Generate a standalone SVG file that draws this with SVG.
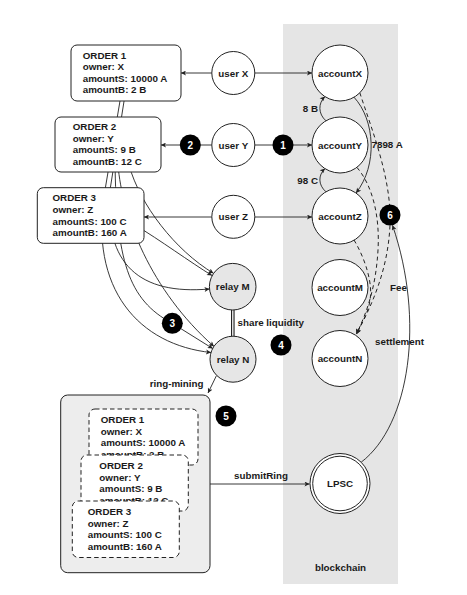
<svg xmlns="http://www.w3.org/2000/svg" width="467" height="595" viewBox="0 0 467 595">
<style>
text{font-family:"Liberation Sans",Arial,sans-serif;font-weight:bold;font-size:9.8px;fill:#1a1a1a}
.box{fill:#fff;stroke:#222;stroke-width:1}
.dbox{fill:#fff;stroke:#222;stroke-width:1;stroke-dasharray:4.5 3}
.c{fill:#fff;stroke:#222;stroke-width:1}
.relay{fill:#e6e6e6;stroke:#222;stroke-width:1}
.ln{fill:none;stroke:#222;stroke-width:0.9}
.arr{marker-end:url(#ah)}
.dash{fill:none;stroke:#222;stroke-width:1;stroke-dasharray:4 3.2}
.badge circle{fill:#000}
.badge text{fill:#fff;text-anchor:middle;font-size:10px}
.mid{text-anchor:middle}
.end{text-anchor:end}
</style>
<defs>
<marker id="ah" viewBox="0 0 10 10" refX="10" refY="5" markerWidth="6" markerHeight="5" markerUnits="userSpaceOnUse" orient="auto">
<path d="M0,0 L10,5 L0,10 L2.5,5 z" fill="#222"/>
</marker>
</defs>
<rect id="blockchain" x="283" y="24" width="115" height="560" fill="#e5e5e5"/>
<text x="340.5" y="571" class="mid">blockchain</text>

<g id="connectors">
<path class="ln" d="M121,95 L105,190 C88,290 140,345 211,352.5" marker-end="url(#ah)"/>
<path class="ln" d="M125,95 L110,190 C104,265 140,295 209.5,289" marker-end="url(#ah)"/>
<path class="ln" d="M115,160 C116,260 128,300 172.3,323.3 L212.8,348.6" marker-end="url(#ah)"/>
<path class="ln" d="M118,165 C122,215 150,290 214,346.5" marker-end="url(#ah)"/>
<path class="ln" d="M129,165 C140,205 175,250 213.5,273.3" marker-end="url(#ah)"/>
<path class="ln" d="M135,225 C160,240 190,262 212,275.5" marker-end="url(#ah)"/>
<path class="ln arr" d="M211.8,73 L181,73"/>
<path class="ln arr" d="M254.8,73 L312,73"/>
<path class="ln arr" d="M211.8,145 L161,145"/>
<path class="ln arr" d="M254.8,145 L312,145"/>
<path class="ln arr" d="M211.8,217 L144,217"/>
<path class="ln arr" d="M254.8,217 L312,217"/>
<path class="ln arr" d="M326,120.8 C318,114 318,103 325,96.6"/>
<path class="ln arr" d="M326,191.8 C318,185 318,175 325,168.6"/>
<path class="ln arr" d="M354,97.2 C375,120 378,165 356,193"/>
<path class="dash arr" d="M359.8,92.8 C372,130 392,180 390,225 C388,270 372,305 356.5,334"/>
<path class="dash arr" d="M357,167.5 C372,185 380,215 378,250 C376,285 368,310 356.5,334"/>
<path class="dash arr" d="M354,240 C366,260 373,285 370,300 C368,315 360,325 356.5,334"/>
<path class="ln arr" d="M361.2,462.2 C410,425 425,320 392.5,225.3"/>
<path class="ln arr" d="M216.5,375.5 L208,393"/>
<path d="M232.8,310 L232.8,336.2" stroke="#222" stroke-width="3.6" fill="none"/>
<path d="M232.8,310 L232.8,336.2" stroke="#fff" stroke-width="1.3" fill="none"/>
<path class="ln arr" d="M210,484 L309.5,484"/>
<text x="318" y="111.5" class="end">8 B</text>
<text x="318" y="183.5" class="end">98 C</text>
<text x="371.5" y="147.8">7898 A</text>
<text x="398.5" y="291" class="mid">Fee</text>
<text x="399.5" y="345" class="mid">settlement</text>
<text x="237.5" y="326">share liquidity</text>
<text x="203.5" y="387" class="end">ring-mining</text>
<text x="261" y="478.5" class="mid">submitRing</text>
</g>

<g id="order1">
<rect class="box" x="71" y="45" width="110" height="56" rx="6"/>
<text x="82.7" y="58.5">ORDER 1</text>
<text x="82.7" y="70">owner:  X</text>
<text x="82.7" y="81.8">amountS: 10000 A</text>
<text x="82.7" y="93.2">amountB: 2 B</text>
</g>
<g id="order2">
<rect class="box" x="55" y="117" width="106" height="55" rx="6"/>
<text x="72.7" y="130">ORDER 2</text>
<text x="72.7" y="141.6">owner:  Y</text>
<text x="72.7" y="153.3">amountS: 9 B</text>
<text x="72.7" y="165">amountB: 12 C</text>
</g>
<g id="order3">
<rect class="box" x="37.3" y="187.7" width="106.7" height="55.6" rx="6"/>
<text x="52.5" y="201.2">ORDER 3</text>
<text x="52.5" y="212.7">owner:  Z</text>
<text x="52.5" y="224.5">amountS: 100 C</text>
<text x="52.5" y="235.9">amountB: 160 A</text>
</g>

<g id="userX"><circle class="c" cx="233.3" cy="73" r="21.5"/><text x="233.3" y="76.5" class="mid">user X</text></g>
<g id="userY"><circle class="c" cx="233.3" cy="145" r="21.5"/><text x="233.3" y="148.5" class="mid">user Y</text></g>
<g id="userZ"><circle class="c" cx="233.3" cy="216.8" r="21.5"/><text x="233.3" y="220.3" class="mid">user Z</text></g>

<g id="accountX"><circle class="c" cx="340" cy="73" r="28"/><text x="340" y="76.5" class="mid">accountX</text></g>
<g id="accountY"><circle class="c" cx="340" cy="145" r="28"/><text x="340" y="148.5" class="mid">accountY</text></g>
<g id="accountZ"><circle class="c" cx="340" cy="216" r="28"/><text x="340" y="219.5" class="mid">accountZ</text></g>
<g id="accountM"><circle class="c" cx="340" cy="287.5" r="28"/><text x="340" y="291" class="mid">accountM</text></g>
<g id="accountN"><circle class="c" cx="340" cy="358.5" r="28"/><text x="340" y="362" class="mid">accountN</text></g>

<g id="relayM"><circle class="relay" cx="232.7" cy="286.7" r="23.3"/><text x="232.7" y="290.2" class="mid">relay M</text></g>
<g id="relayN"><circle class="relay" cx="233" cy="359.2" r="23"/><text x="233" y="362.7" class="mid">relay N</text></g>

<g id="LPSC">
<circle class="c" cx="340" cy="483.5" r="30"/>
<circle fill="none" stroke="#222" stroke-width="1" cx="340" cy="483.5" r="27.3"/>
<text x="340" y="487" class="mid">LPSC</text>
</g>

<g id="ring">
<rect x="60.7" y="395" width="149.3" height="177.7" rx="7" fill="#ededed" stroke="#222" stroke-width="1"/>
<g id="ringOrder1">
<rect class="dbox" x="89" y="409" width="109" height="56" rx="6"/>
<text x="100.7" y="422.5">ORDER 1</text>
<text x="100.7" y="434.5">owner:  X</text>
<text x="100.7" y="446">amountS: 10000 A</text>
<text x="100.7" y="457.5">amountB: 2 B</text>
</g>
<g id="ringOrder2">
<rect class="dbox" x="81" y="455" width="107.3" height="56" rx="6"/>
<text x="99.3" y="468.5">ORDER 2</text>
<text x="99.3" y="480.5">owner:  Y</text>
<text x="99.3" y="492">amountS: 9 B</text>
<text x="99.3" y="503.5">amountB: 12 C</text>
</g>
<g id="ringOrder3">
<rect class="dbox" x="72.3" y="501" width="107" height="56.5" rx="6"/>
<text x="87.7" y="514.5">ORDER 3</text>
<text x="87.7" y="526.5">owner:  Z</text>
<text x="87.7" y="538">amountS: 100 C</text>
<text x="87.7" y="549.5">amountB: 160 A</text>
</g>
</g>

<g id="badge1" class="badge"><circle cx="283" cy="145" r="10.5"/><text x="283" y="148.6">1</text></g>
<g id="badge2" class="badge"><circle cx="190.3" cy="145" r="10.5"/><text x="190.3" y="148.6">2</text></g>
<g id="badge3" class="badge"><circle cx="172.3" cy="323.3" r="10.5"/><text x="172.3" y="326.9">3</text></g>
<g id="badge4" class="badge"><circle cx="281" cy="345" r="10.5"/><text x="281" y="348.6">4</text></g>
<g id="badge5" class="badge"><circle cx="226" cy="416" r="10.5"/><text x="226" y="419.6">5</text></g>
<g id="badge6" class="badge"><circle cx="390" cy="215" r="10.5"/><text x="390" y="218.6">6</text></g>
</svg>
